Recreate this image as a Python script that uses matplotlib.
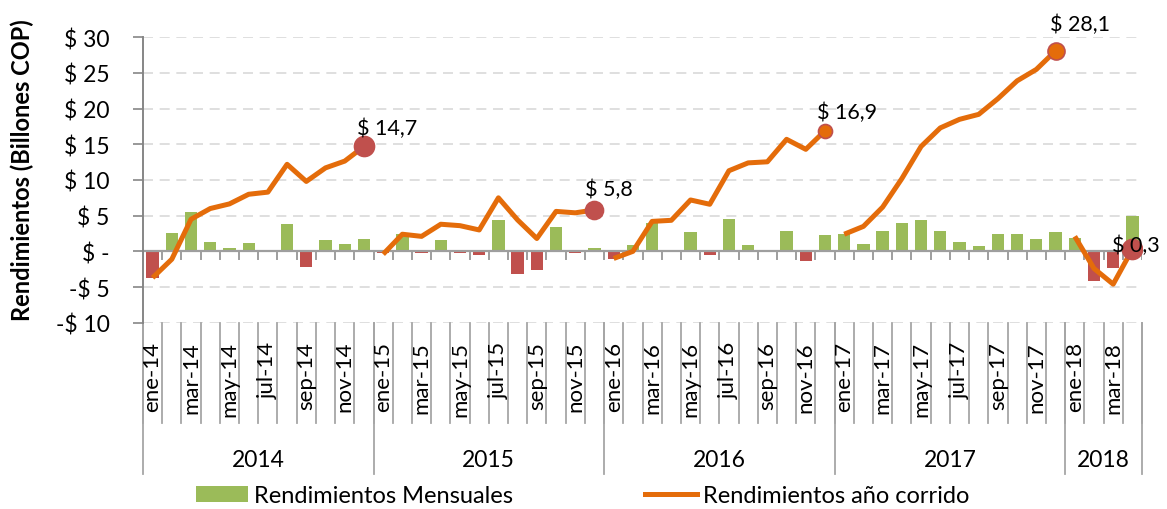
import numpy as np
import matplotlib
matplotlib.use("Agg")
import matplotlib.pyplot as plt
import matplotlib.transforms as mtransforms
from matplotlib.patches import Patch
from matplotlib.lines import Line2D

# etiquetas
meses = ["ene", "feb", "mar", "abr", "may", "jun", "jul", "ago", "sep", "oct", "nov", "dic"]
anios = ["2014", "2015", "2016", "2017", "2018"]
meses_por_anio = [12, 12, 12, 12, 4]

# rendimientos mensuales (billones COP)
mensual = [
    -3.7, 2.6, 5.5, 1.35, 0.5, 1.15, 0.25, 3.8, -2.2, 1.6, 1.0, 1.8,
    -0.3, 2.4, -0.3, 1.6, -0.2, -0.5, 4.4, -3.2, -2.6, 3.4, -0.2, 0.4,
    -1.1, 0.9, 4.0, 0.05, 2.75, -0.5, 4.6, 0.9, 0.1, 2.9, -1.3, 2.3,
    2.4, 1.1, 2.9, 4.0, 4.45, 2.8, 1.25, 0.8, 2.4, 2.45, 1.75, 2.65,
    1.9, -4.1, -2.3, 5.0,
]
# rendimientos año corrido
acumulado = [
    -3.7, -1.1, 4.5, 6.0, 6.65, 8.0, 8.3, 12.2, 9.8, 11.7, 12.65, 14.7,
    -0.4, 2.4, 2.1, 3.8, 3.6, 3.0, 7.5, 4.4, 1.8, 5.6, 5.4, 5.8,
    -1.0, 0.0, 4.2, 4.35, 7.2, 6.6, 11.3, 12.4, 12.55, 15.7, 14.3, 16.9,
    2.4, 3.5, 6.2, 10.2, 14.7, 17.3, 18.5, 19.2, 21.4, 23.9, 25.5, 28.1,
    2.1, -2.4, -4.6, 0.3,
]
etiquetas_fin = ["$ 14,7", "$ 5,8", "$ 16,9", "$ 28,1", "$ 0,3"]

VERDE = "#9BBB59"
ROJO = "#C0504D"
NARANJA = "#E46C0A"
GRIS = "#A6A6A6"

plt.rcParams["font.family"] = ["Lato", "DejaVu Sans"]

fig = plt.figure(figsize=(11.67, 5.10), dpi=100)
H = 510.0
ax = fig.add_axes([143 / 1167, 1 - 323.7 / H, (1142 - 143) / 1167, (323.7 - 38.3) / H])

n = len(mensual)
x = np.arange(n)
colores = [VERDE if v >= 0 else ROJO for v in mensual]
ax.bar(x, mensual, width=0.64, color=colores, zorder=2)

# linea por año y marcador final
inicio = 0
estilos = [(ROJO, ROJO, 20), (ROJO, ROJO, 18), (NARANJA, ROJO, 14), (NARANJA, ROJO, 17), (ROJO, ROJO, 20)]
offsets = [(-5, 6), (-7, 8), (-6, 6), (-4, 12), (-15, -4)]
for k, m in enumerate(meses_por_anio):
    xs = x[inicio:inicio + m]
    ys = acumulado[inicio:inicio + m]
    ax.plot(xs, ys, color=NARANJA, lw=3.6, zorder=3, solid_capstyle="butt")
    fc, ec, ms = estilos[k]
    ax.plot(xs[-1], ys[-1], "o", ms=ms * 0.72, mfc=fc, mec=ec, mew=1.2, zorder=4)
    ax.annotate(etiquetas_fin[k], (xs[-1], ys[-1]), xytext=offsets[k],
                textcoords="offset points", fontsize=15.5, ha="left", va="bottom", zorder=5)
    inicio += m

ax.set_xlim(-0.5, n - 0.5)
ax.set_ylim(-10, 30)
yt = np.arange(-10, 31, 5)
ax.set_yticks(yt)
def fmt(v):
    if v == 0:
        return "$ -"
    if v < 0:
        return "-$ %d" % abs(v)
    return "$ %d" % v
ax.set_yticklabels([fmt(v) for v in yt], fontsize=16.5)
ax.tick_params(axis="y", length=7, width=1.2, color="#868686", pad=17)
ax.set_xticks([])
for v in yt:
    ax.axhline(v, color="#D9D9D9", lw=1.2, ls=(0, (6, 4)), zorder=0)
ax.axhline(0, color="#9E9E9E", lw=1.6, zorder=2.5)
for b in np.arange(n + 1) - 0.5:
    ax.plot([b, b], [0, -1.1], color="#9E9E9E", lw=1.4, zorder=2.5)

for s in ["top", "right", "bottom"]:
    ax.spines[s].set_visible(False)
ax.spines["left"].set_color("#868686")
ax.spines["left"].set_linewidth(1.4)

fig.text(22 / 1167, 1 - 170 / H, "Rendimientos (Billones COP)", rotation=90, fontsize=17,
         fontweight="bold", ha="center", va="center")

# eje de categorías en dos niveles
tr = mtransforms.blended_transform_factory(ax.transData, fig.transFigure)
def fy(px):
    return 1 - px / H

for b in np.arange(n + 1) - 0.5:
    ax.plot([b, b], [fy(324), fy(424)], color=GRIS, lw=1.3, transform=tr, clip_on=False)

etiquetas = []
inicio = 0
for k, m in enumerate(meses_por_anio):
    for j in range(m):
        etiquetas.append("%s-%s" % (meses[j], anios[k][2:]))
    ax.plot([inicio - 0.5, inicio - 0.5], [fy(324), fy(475)], color=GRIS, lw=1.3, transform=tr, clip_on=False)
    ax.text(inicio + m / 2 - 0.5, fy(461), anios[k], transform=tr, ha="center", va="center", fontsize=16.5)
    inicio += m
ax.plot([n - 0.5, n - 0.5], [fy(324), fy(475)], color=GRIS, lw=1.3, transform=tr, clip_on=False)

for i in range(0, n, 2):
    ax.text(i, fy(342), etiquetas[i], transform=tr, rotation=90, ha="center", va="top", fontsize=16)

handles = [Patch(facecolor=VERDE, edgecolor="none"), Line2D([], [], color=NARANJA, lw=3.6)]
fig.legend(handles, ["Rendimientos Mensuales", "Rendimientos año corrido"], loc="center",
           bbox_to_anchor=(0.4995, 1 - 497 / H), ncol=2, frameon=False, fontsize=17,
           handlelength=2.2, handleheight=0.65, columnspacing=5.6, handletextpad=0.25)

fig.savefig("out.png", dpi=100)
